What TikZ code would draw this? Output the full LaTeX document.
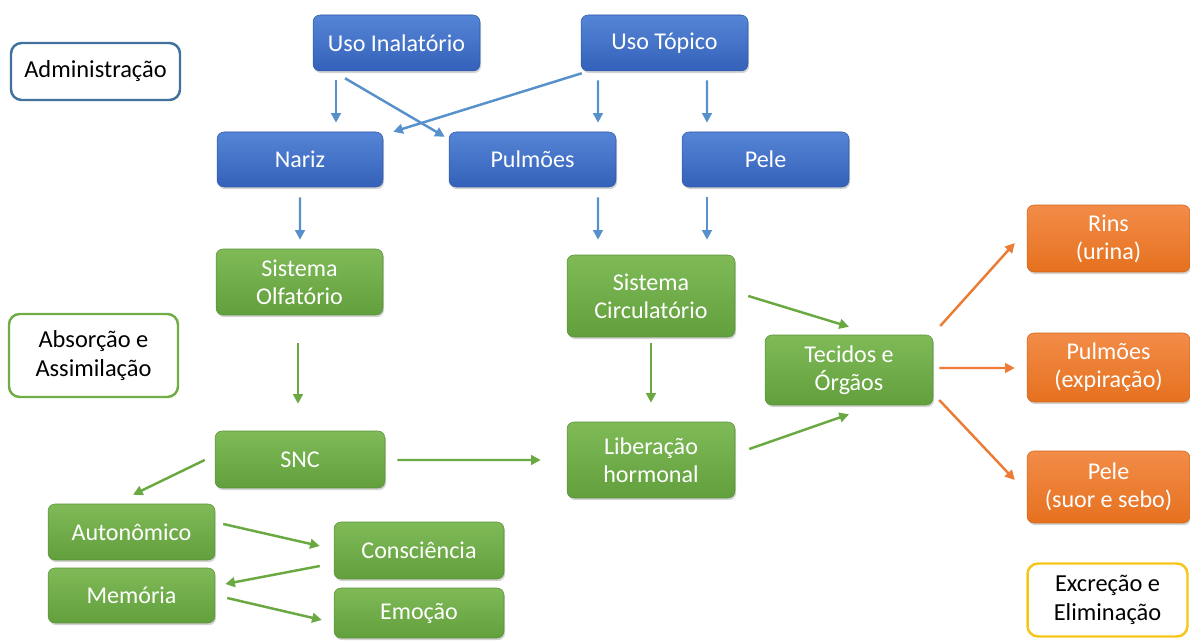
\documentclass[tikz,border=0pt]{standalone}
\usepackage{fontspec}
\setmainfont{Carlito}
\usetikzlibrary{calc,shadows,arrows.meta}

\definecolor{bluetop}{HTML}{5585D6}
\definecolor{bluebot}{HTML}{3461B9}
\definecolor{greentop}{HTML}{7FBA57}
\definecolor{greenbot}{HTML}{62A03D}
\definecolor{orangetop}{HTML}{F28C48}
\definecolor{orangebot}{HTML}{E6711F}
\definecolor{bluearrow}{HTML}{5691CB}
\definecolor{greenarrow}{HTML}{6AA842}
\definecolor{orangearrow}{HTML}{EB7B35}
\definecolor{blueedge}{HTML}{41719C}
\definecolor{greenedge}{HTML}{70AD47}
\definecolor{yellowedge}{HTML}{F5C518}

\tikzset{
  box/.style={rounded corners=4pt, align=center, text=white,
    font=\fontsize{13.7}{16}\selectfont, inner sep=2pt,
    drop shadow={opacity=0.35, shadow xshift=0.6pt, shadow yshift=-1.2pt}},
  bluebox/.style={box, top color=bluetop, bottom color=bluebot, draw=bluebot!90!black, line width=0.3pt},
  greenbox/.style={box, top color=greentop, bottom color=greenbot, draw=greenbot!90!black, line width=0.3pt},
  orangebox/.style={box, top color=orangetop, bottom color=orangebot, draw=orangebot!90!black, line width=0.3pt},
  stagebox/.style={rounded corners=6pt, align=center, fill=white, line width=1.4pt,
    font=\fontsize{13.9}{16.5}\selectfont, text=black},
  conn/.style={line width=1.4pt, -{Triangle[length=5.5pt,width=5.5pt]}},
  barrow/.style={conn, bluearrow},
  garrow/.style={conn, greenarrow},
  oarrow/.style={conn, orangearrow},
}

\begin{document}
\begin{tikzpicture}[x=0.02cm, y=-0.02cm]
\useasboundingbox (0,0) rectangle (1190,644);

% stage labels
\node[stagebox, draw=blueedge, minimum width=3.38cm, minimum height=1.14cm] (adm) at (95.5,71.5) {Administração};
\node[stagebox, draw=greenedge, minimum width=3.38cm, minimum height=1.66cm] (abs) at (93.5,355.5) {Absorção e\\Assimilação};
\node[stagebox, draw=yellowedge, minimum width=3.2cm, minimum height=1.46cm] (exc) at (1107.5,600) {Excreção e\\Eliminação};

% administration routes
\node[bluebox, minimum width=3.34cm, minimum height=1.12cm] (inal) at (396.5,43) {Uso Inalatório};
\node[bluebox, minimum width=3.34cm, minimum height=1.12cm] (topi) at (664.5,43) {Uso Tópico};
\node[bluebox, minimum width=3.32cm, minimum height=1.10cm] (nariz) at (300,159.5) {Nariz};
\node[bluebox, minimum width=3.34cm, minimum height=1.10cm] (pulm) at (532.5,159.5) {Pulmões};
\node[bluebox, minimum width=3.34cm, minimum height=1.10cm] (pele) at (765.5,159.5) {Pele};

% absorption
\node[greenbox, minimum width=3.34cm, minimum height=1.32cm] (olf) at (299.5,282) {Sistema\\Olfatório};
\node[greenbox, minimum width=3.40cm, minimum height=1.14cm] (snc) at (300,459.5) {SNC};
\node[greenbox, minimum width=3.34cm, minimum height=1.12cm] (auto) at (131.5,532) {Autonômico};
\node[greenbox, minimum width=3.34cm, minimum height=1.10cm] (mem) at (131.5,595.5) {Memória};
\node[greenbox, minimum width=3.40cm, minimum height=1.14cm] (cons) at (419,550.5) {Consciência};
\node[greenbox, minimum width=3.40cm, minimum height=1.00cm] (emo) at (419,613) {Emoção};
\node[greenbox, minimum width=3.36cm, minimum height=1.64cm] (circ) at (651,296) {Sistema\\Circulatório};
\node[greenbox, minimum width=3.36cm, minimum height=1.52cm] (lib) at (651,460) {Liberação\\hormonal};
\node[greenbox, minimum width=3.36cm, minimum height=1.40cm] (tec) at (849,370) {Tecidos e\\Órgãos};

% excretion
\node[orangebox, minimum width=3.26cm, minimum height=1.34cm] (rins) at (1108.5,238.5) {Rins\\(urina)};
\node[orangebox, minimum width=3.26cm, minimum height=1.38cm] (pulm2) at (1108.5,367.5) {Pulmões\\(expiração)};
\node[orangebox, minimum width=3.26cm, minimum height=1.44cm] (pele2) at (1108.5,487) {Pele\\(suor e sebo)};

% blue connectors
\draw[barrow] ($(inal.south)+(-60.5,9)$) -- ($(nariz.north)+(36,-9)$);
\draw[barrow] ($(inal.south)+(-51.5,7)$) -- ($(pulm.north west)+(-4,5)$);
\draw[barrow] ($(topi.south west)+(1,2)$) -- ($(nariz.north east)+(10,0)$);
\draw[barrow] ($(topi.south)+(-66.5,9)$) -- ($(pulm.north)+(65.5,-9)$);
\draw[barrow] ($(topi.south)+(42.5,9)$) -- ($(pele.north)+(-58.5,-9)$);
\draw[barrow] ($(nariz.south)+(0,10)$) -- ($(olf.north)+(0.5,-9)$);
\draw[barrow] ($(pulm.south)+(65.5,10)$) -- ($(circ.north)+(-53,-15)$);
\draw[barrow] ($(pele.south)+(-58.5,10)$) -- ($(circ.north)+(56,-15)$);

% green connectors
\draw[garrow] ($(olf.south)+(-1.5,28)$) -- ($(snc.north)+(-2,-27)$);
\draw[garrow] ($(snc.west)+(-10,0.5)$) -- ($(auto.north)+(1.5,-9)$);
\draw[garrow] ($(snc.east)+(12,0.5)$) -- ($(lib.west)+(-26,0)$);
\draw[garrow] ($(auto.east)+(8,-8)$) -- ($(cons.west)+(-14,-4.5)$);
\draw[garrow] ($(cons.west)+(-14,15.5)$) -- ($(mem.east)+(10,-11.5)$);
\draw[garrow] ($(mem.east)+(12,2.5)$) -- ($(emo.west)+(-12,7)$);
\draw[garrow] ($(circ.south)+(0,6)$) -- ($(lib.north)+(0,-19)$);
\draw[garrow] ($(circ.east)+(13,0)$) -- ($(tec.north)+(0,-8)$);
\draw[garrow] ($(lib.east)+(14,-11)$) -- ($(tec.south)+(0,9)$);

% orange connectors
\draw[oarrow] ($(tec.east)+(7,-44)$) -- ($(rins.west)+(-12,4.5)$);
\draw[oarrow] ($(tec.east)+(6,-2)$) -- ($(pulm2.west)+(-12,0.5)$);
\draw[oarrow] ($(tec.east)+(6,30)$) -- ($(pele2.west)+(-12,-7)$);
\end{tikzpicture}
\end{document}
